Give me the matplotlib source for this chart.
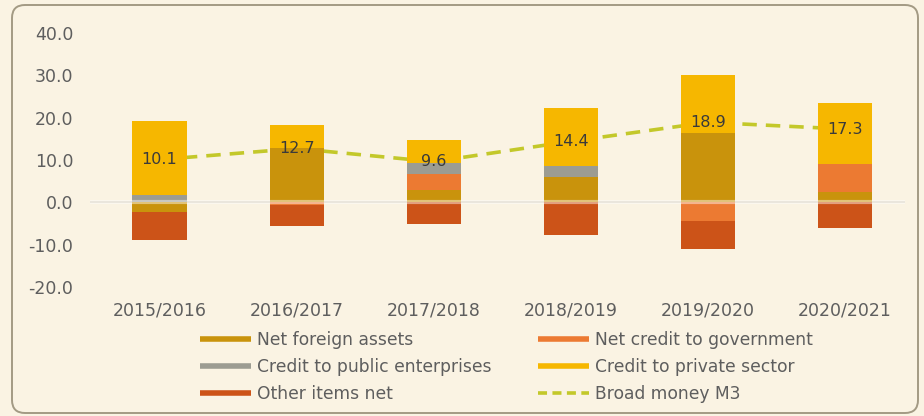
import matplotlib.pyplot as plt
import numpy as np
from matplotlib.lines import Line2D
from matplotlib.patches import FancyBboxPatch

years = ['2015/2016', '2016/2017', '2017/2018', '2018/2019', '2019/2020', '2020/2021']
net_foreign = [-2.3, 12.8, 3.0, 6.1, 16.3, 2.5]
net_govt = [0.0, -0.7, 3.6, 0.0, -4.3, 6.5]
public_ent = [1.7, 0.0, 2.6, 2.4, 0.0, 0.0]
private_sec = [17.4, 5.4, 5.5, 13.7, 13.7, 14.4]
other_items = [-6.7, -4.8, -5.1, -7.8, -6.8, -6.1]
broad_m3 = [10.1, 12.7, 9.6, 14.4, 18.9, 17.3]

bg = '#FAF3E3'
txt = '#5E5E5E'

series = [
    ('Net foreign assets', net_foreign, '#C9930C'),
    ('Net credit to government', net_govt, '#EC7A32'),
    ('Credit to public enterprises', public_ent, '#9C9C92'),
    ('Credit to private sector', private_sec, '#F6B700'),
    ('Other items net', other_items, '#CC5318'),
]
m3_color = '#C3C82A'

fig = plt.figure(figsize=(9.24, 4.16), dpi=100, facecolor=bg)
frame = FancyBboxPatch((12, 3), 906, 408, boxstyle='round,pad=0,rounding_size=13',
                       transform=None, facecolor=bg, edgecolor='#A39A84', lw=1.4,
                       zorder=-5)
fig.patches.append(frame)

ax = fig.add_axes([0.0974, 0.2897, 0.882, 0.6514])
ax.set_facecolor('none')
x = np.arange(len(years))

# positive parts stack upwards from zero, negative parts downwards
pos = np.zeros(len(years))
neg = np.zeros(len(years))
for name, vals, col in series:
    v = np.array(vals)
    base = np.where(v >= 0, pos, neg)
    ax.bar(x, v, 0.394, bottom=base, color=col, zorder=3)
    pos += np.clip(v, 0, None)
    neg += np.clip(v, None, 0)

ax.axhline(0, color='#D9D2C2', lw=1.5, zorder=1)
ax.axhline(0, color='white', lw=3, alpha=0.45, zorder=4)

ax.plot(x, broad_m3, color=m3_color, lw=2.6, dashes=(4, 2.5), zorder=2)
for xi, v in zip(x, broad_m3):
    ax.text(xi, v, f'{v:.1f}', ha='center', va='center', fontsize=11.5,
            color='#3A3A3A', zorder=5)

ax.set_xlim(-0.507, 5.438)
ax.set_ylim(-22, 42)
ax.set_yticks(np.arange(-20, 41, 10))
ax.set_yticklabels([f'{t:.1f}' for t in np.arange(-20, 41, 10)])
ax.set_xticks(x)
ax.set_xticklabels(years)
ax.tick_params(axis='y', length=0, pad=12, labelsize=12.5, labelcolor=txt)
ax.tick_params(axis='x', length=0, pad=4, labelsize=12.5, labelcolor=txt)
for s in ax.spines.values():
    s.set_visible(False)

handles = [Line2D([], [], color=c, lw=4, solid_capstyle='butt') for _, _, c in series]
m3_handle = Line2D([], [], color=m3_color, lw=2.6, dashes=(2.5, 1.5))
leg_kw = dict(frameon=False, fontsize=12.3, handlelength=3.0, handletextpad=0.35,
              labelspacing=0.52, borderpad=0, borderaxespad=0, labelcolor=txt,
              loc='upper left')
fig.legend([handles[0], handles[2], handles[4]],
           [series[0][0], series[2][0], series[4][0]],
           bbox_to_anchor=(200 / 924, 1 - 331 / 416), **leg_kw)
fig.legend([handles[1], handles[3], m3_handle],
           [series[1][0], series[3][0], 'Broad money M3'],
           bbox_to_anchor=(538 / 924, 1 - 331 / 416), **leg_kw)

fig.savefig('out.png', dpi=100, facecolor=bg)
